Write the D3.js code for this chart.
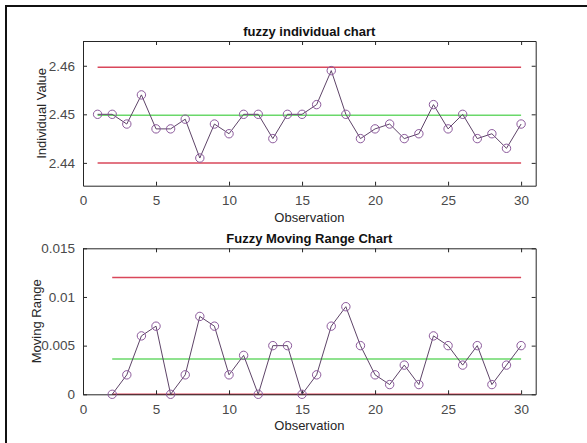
<!DOCTYPE html>
<html>
<head>
<meta charset="utf-8">
<script src="https://cdn.jsdelivr.net/npm/d3@7"></script>
<style>
  body { margin: 0; background: #fff; }
  text { font-family: 'Liberation Sans', Arial, sans-serif; }
</style>
</head>
<body>
<script>
// observation numbers
const observations = [
  1, 2, 3, 4, 5, 6, 7, 8, 9, 10, 11, 12, 13, 14, 15,
  16, 17, 18, 19, 20, 21, 22, 23, 24, 25, 26, 27, 28, 29, 30,
];

const individualValues = [
  2.45, 2.45, 2.448, 2.454, 2.447, 2.447, 2.449, 2.441, 2.448, 2.446,
  2.45, 2.45, 2.445, 2.45, 2.45, 2.452, 2.459, 2.45, 2.445, 2.447,
  2.448, 2.445, 2.446, 2.452, 2.447, 2.45, 2.445, 2.446, 2.443, 2.448,
];

// moving range starts at observation 2
const movingRanges = [
  0, 0.002, 0.006, 0.007, 0, 0.002, 0.008, 0.007, 0.002, 0.004,
  0, 0.005, 0.005, 0, 0.002, 0.007, 0.009, 0.005, 0.002, 0.001,
  0.003, 0.001, 0.006, 0.005, 0.003, 0.005, 0.001, 0.003, 0.005,
];

const individualLimits = [2.4597, 2.4498, 2.44]; // UCL, CL, LCL
const movingRangeLimits = [0.012, 0.00363, 0]; // UCL, CL, LCL

const xTicks = [0, 5, 10, 15, 20, 25, 30];
const individualTicks = [2.44, 2.45, 2.46];
const individualTickLabels = ['2.44', '2.45', '2.46'];
const movingRangeTicks = [0, 0.005, 0.01, 0.015];
const movingRangeTickLabels = ['0', '0.005', '0.01', '0.015'];

const width = 587;
const height = 443;
const fontSize = 13.5;
const redColor = '#d9475a';
const greenColor = '#6ad86a';

const svg = d3
  .select('body')
  .append('svg')
  .attr('width', width)
  .attr('height', height);

// figure frame (only top and left edges are visible)
svg
  .append('path')
  .attr('d', `M6,${height}V6H${width}`)
  .attr('fill', 'none')
  .attr('stroke', '#111')
  .attr('stroke-width', 2);

const drawPanel = (cfg) => {
  const x = d3.scaleLinear().domain([0, 31]).range([cfg.left, cfg.right]);
  const y = d3
    .scaleLinear()
    .domain(cfg.yDomain)
    .range([cfg.bottom, cfg.top]);

  const g = svg.append('g');

  // control lines
  const limitColors = [redColor, greenColor, redColor];
  g.selectAll('line.limit')
    .data(cfg.limits)
    .enter()
    .append('line')
    .attr('class', 'limit')
    .attr('x1', x(cfg.xs[0]))
    .attr('x2', x(cfg.xs[cfg.xs.length - 1]))
    .attr('y1', (d) => y(d))
    .attr('y2', (d) => y(d))
    .attr('stroke', (d, i) => limitColors[i])
    .attr('stroke-width', 1.5);

  // axes with inward ticks, on all four sides
  const tickColor = '#262626';
  const bottomAxis = d3
    .axisBottom(x)
    .tickValues(xTicks)
    .tickSizeInner(-4)
    .tickSizeOuter(0)
    .tickPadding(10);
  const topAxis = d3
    .axisTop(x)
    .tickValues(xTicks)
    .tickSizeInner(-4)
    .tickSizeOuter(0)
    .tickFormat('');
  const leftAxis = d3
    .axisLeft(y)
    .tickValues(cfg.yTicks)
    .tickSizeInner(-4)
    .tickSizeOuter(0)
    .tickPadding(8)
    .tickFormat((d, i) => cfg.yTickLabels[i]);
  const rightAxis = d3
    .axisRight(y)
    .tickValues(cfg.yTicks)
    .tickSizeInner(-4)
    .tickSizeOuter(0)
    .tickFormat('');

  const axes = [
    [bottomAxis, `translate(0,${cfg.bottom})`],
    [topAxis, `translate(0,${cfg.top})`],
    [leftAxis, `translate(${cfg.left},0)`],
    [rightAxis, `translate(${cfg.right},0)`],
  ];
  axes.forEach(([axis, tr]) => {
    const a = g.append('g').attr('transform', tr).call(axis);
    a.select('.domain').attr('stroke', tickColor);
    a.selectAll('.tick line').attr('stroke', tickColor);
    a.selectAll('.tick text')
      .attr('fill', '#4a4a4a')
      .style('font-size', fontSize + 'px')
      .style('font-family', "'Liberation Sans', Arial, sans-serif");
  });

  // data line and circle markers
  const pts = cfg.xs.map((d, i) => [d, cfg.values[i]]);
  g.append('path')
    .datum(pts)
    .attr('fill', 'none')
    .attr('stroke', '#5e4468')
    .attr('stroke-width', 1)
    .attr(
      'd',
      d3
        .line()
        .x((d) => x(d[0]))
        .y((d) => y(d[1]))
    );
  g.selectAll('circle')
    .data(pts)
    .enter()
    .append('circle')
    .attr('cx', (d) => x(d[0]))
    .attr('cy', (d) => y(d[1]))
    .attr('r', 4.2)
    .attr('fill', 'none')
    .attr('stroke', '#8c5a9c')
    .attr('stroke-width', 1);

  // title
  g.append('text')
    .attr('x', (cfg.left + cfg.right) / 2)
    .attr('y', cfg.top - 5)
    .attr('text-anchor', 'middle')
    .style('font-size', '13px')
    .style('font-weight', 'bold')
    .attr('fill', '#111')
    .text(cfg.title);

  // x label
  g.append('text')
    .attr('x', (cfg.left + cfg.right) / 2)
    .attr('y', cfg.bottom + 36)
    .attr('text-anchor', 'middle')
    .style('font-size', '13px')
    .attr('fill', '#262626')
    .text('Observation');

  // y label
  g.append('text')
    .attr(
      'transform',
      `translate(${cfg.yLabelX},${(cfg.top + cfg.bottom) / 2})rotate(-90)`
    )
    .attr('text-anchor', 'middle')
    .style('font-size', '13px')
    .attr('fill', '#262626')
    .text(cfg.yLabel);
};

drawPanel({
  title: 'fuzzy individual chart',
  yLabel: 'Individual Value',
  yLabelX: 46,
  left: 83,
  right: 535.7,
  top: 41,
  bottom: 185.7,
  yDomain: [2.4353, 2.4651],
  yTicks: individualTicks,
  yTickLabels: individualTickLabels,
  xs: observations,
  values: individualValues,
  limits: individualLimits,
});

drawPanel({
  title: 'Fuzzy Moving Range Chart',
  yLabel: 'Moving Range',
  yLabelX: 41,
  left: 83,
  right: 535.7,
  top: 248.3,
  bottom: 394.3,
  yDomain: [0, 0.015],
  yTicks: movingRangeTicks,
  yTickLabels: movingRangeTickLabels,
  xs: observations.slice(1),
  values: movingRanges,
  limits: movingRangeLimits,
});
</script>
</body>
</html>
